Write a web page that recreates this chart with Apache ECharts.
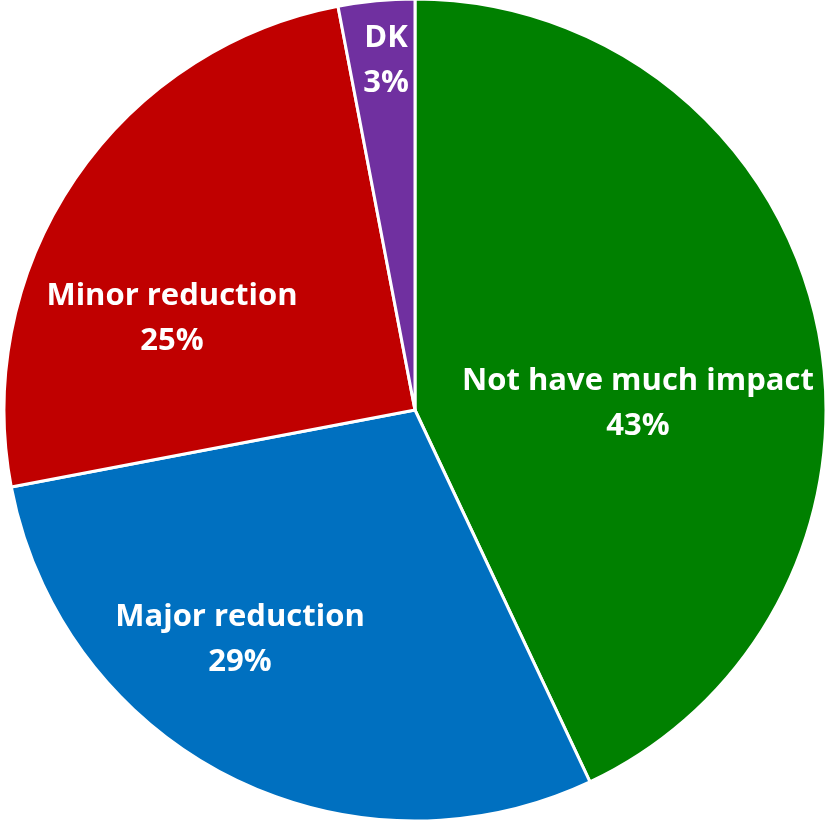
<!DOCTYPE html>
<html>
<head>
<meta charset="utf-8">
<style>
  html, body { margin: 0; padding: 0; background: #ffffff; }
  #chart { width: 827px; height: 822px; }
</style>
<script src="https://cdn.jsdelivr.net/npm/echarts@6/dist/echarts.min.js"></script>
</head>
<body>
<div id="chart"></div>
<script>
// Survey answers, clockwise from 12 o'clock
const categories = ['Not have much impact', 'Major reduction', 'Minor reduction', 'DK'];
const shares = [43, 29, 25, 3];
const sliceColors = ['#008000', '#0070C0', '#C00000', '#7030A0'];

// Label anchor points (pixel centres of each two-line label)
const labelCentres = [[638, 404], [240, 640], [172, 319], [386, 61]];

const chart = echarts.init(document.getElementById('chart'), null, { renderer: 'canvas' });

chart.setOption({
  animation: false,
  backgroundColor: '#ffffff',
  series: [{
    type: 'pie',
    center: [415, 410],
    radius: [0, 411],
    startAngle: 90,
    clockwise: true,
    avoidLabelOverlap: false,
    itemStyle: { borderColor: '#ffffff', borderWidth: 3 },
    label: {
      show: true,
      position: 'inside',
      formatter: '{b}\n{c}%',
      color: '#ffffff',
      fontFamily: 'Open Sans, Liberation Sans, sans-serif',
      fontWeight: 'bold',
      fontSize: 31,
      lineHeight: 45,
      align: 'center'
    },
    labelLine: { show: false },
    labelLayout: function (params) {
      const p = labelCentres[params.dataIndex];
      return { x: p[0], y: p[1], align: 'center', verticalAlign: 'middle' };
    },
    emphasis: { disabled: true },
    data: categories.map((name, i) => ({
      name: name,
      value: shares[i],
      itemStyle: { color: sliceColors[i] }
    }))
  }]
});
</script>
</body>
</html>
